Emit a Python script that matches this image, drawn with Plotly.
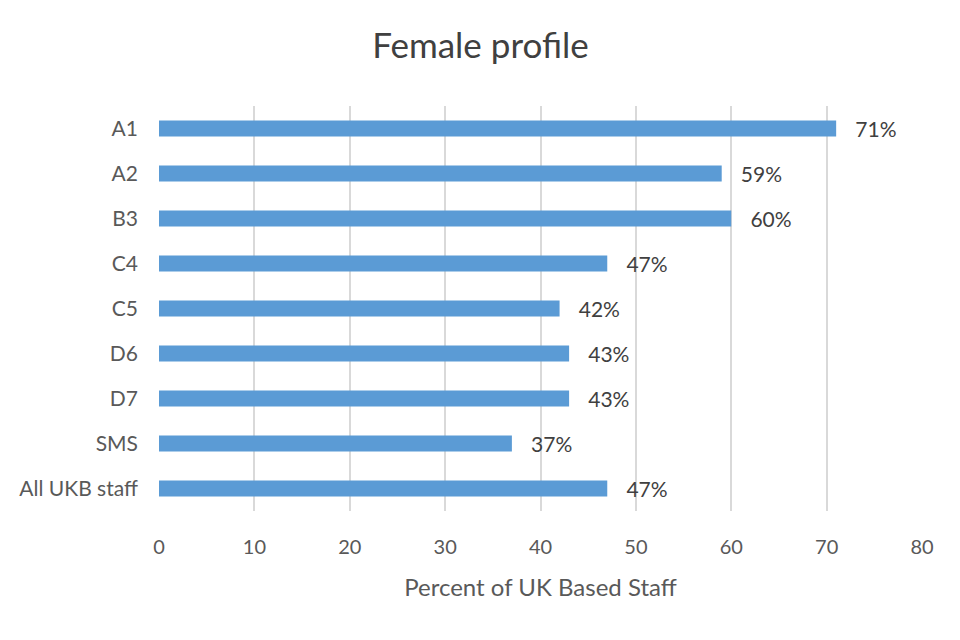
import plotly.graph_objects as go

categories = ["A1", "A2", "B3", "C4", "C5", "D6", "D7", "SMS", "All UKB staff"]
values = [71, 59, 60, 47, 42, 43, 43, 37, 47]
x_ticks = [0, 10, 20, 30, 40, 50, 60, 70, 80]

font_family = "Lato, 'Open Sans', sans-serif"

fig = go.Figure(
    go.Bar(
        x=values,
        y=categories,
        orientation="h",
        marker=dict(color="#5B9BD5", line=dict(width=0)),
        width=0.36,
        text=[f"   {v}%" for v in values],
        textposition="outside",
        constraintext="none",
        textfont=dict(size=21, color="#404040", family=font_family),
        cliponaxis=False,
    )
)

fig.update_layout(
    width=960,
    height=640,
    paper_bgcolor="white",
    plot_bgcolor="white",
    margin=dict(l=151, r=46, t=98, b=137, autoexpand=False),
    title=dict(
        text="Female profile",
        x=0.4921,
        xanchor="center",
        y=0.9406,
        yanchor="middle",
        font=dict(size=35, color="#404040", family=font_family),
    ),
    showlegend=False,
    font=dict(family=font_family, color="#595959"),
)

fig.update_xaxes(
    range=[0, 80],
    tickvals=x_ticks,
    ticktext=[str(t) for t in x_ticks],
    showgrid=True,
    gridcolor="#d9d9d9",
    gridwidth=2,
    zeroline=False,
    showline=False,
    automargin=False,
    tickfont=dict(size=20, color="#595959"),
    ticklabelstandoff=22,
    title=dict(text="Percent of UK Based Staff", font=dict(size=24, color="#595959"), standoff=22),
)

fig.update_yaxes(
    categoryorder="array",
    categoryarray=categories,
    autorange="reversed",
    showgrid=False,
    showline=False,
    zeroline=False,
    automargin=False,
    tickfont=dict(size=21, color="#595959"),
    ticklabelstandoff=20,
)

fig.write_html("out.html")
